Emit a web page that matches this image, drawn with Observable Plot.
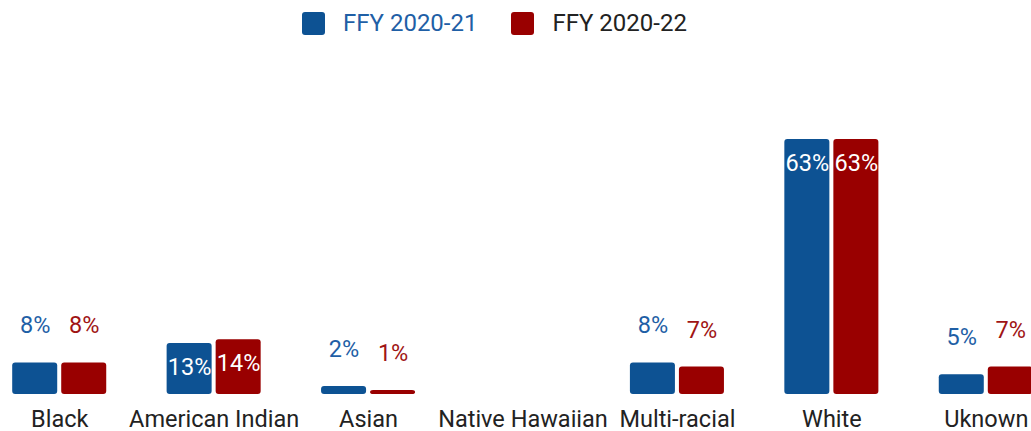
<!DOCTYPE html>
<html><head><meta charset="utf-8">
<script src="https://cdn.jsdelivr.net/npm/d3@7"></script>
<script src="https://cdn.jsdelivr.net/npm/@observablehq/plot@0.6"></script>
<style>
html,body{margin:0;padding:0;background:#fff;overflow:hidden;font-family:Roboto,sans-serif}
#legend{height:46px;display:flex;align-items:center;padding-left:302px;font-size:24px;box-sizing:border-box}
.item{display:flex;align-items:center;margin-right:34px}
.sw{width:23px;height:23px;border-radius:3px;margin-right:18px}
</style></head><body>
<div id="legend"></div><div id="chart"></div>
<script>
const categories = ["Black","American Indian","Asian","Native Hawaiian","Multi-racial","White","Uknown"];
const series = ["FFY 2020-21","FFY 2020-22"];
const values2021 = [7.8, 12.6, 2.0, 0, 7.8, 63.0, 4.9];
const values2022 = [7.8, 13.5, 1.0, 0, 6.8, 63.0, 6.8];
const barColors = ["#0d5293","#990000"];
const labelColors = ["#1f5fa6","#a01414"];
const legendTextColors = ["#1f5fa6","#222222"];

const data = [];
categories.forEach((c, i) => {
  data.push({category: c, series: series[0], value: values2021[i]});
  data.push({category: c, series: series[1], value: values2022[i]});
});
data.forEach(d => d.label = Math.round(d.value) + "%");

const legend = document.getElementById("legend");
series.forEach((s, i) => {
  const it = document.createElement("div"); it.className = "item";
  const sw = document.createElement("div"); sw.className = "sw"; sw.style.background = barColors[i];
  const tx = document.createElement("span"); tx.textContent = s; tx.style.color = legendTextColors[i];
  it.append(sw, tx); legend.append(it);
});

const chart = Plot.plot({
  width: 1031,
  height: 385,
  marginLeft: -18,
  marginRight: -32,
  marginTop: 93,
  marginBottom: 37,
  style: {fontFamily: "Roboto", fontSize: "23.5px", background: "white", overflow: "hidden"},
  fx: {domain: categories, padding: 0, round: false},
  x: {domain: series, paddingInner: 0.0816, paddingOuter: 0.616, round: false, axis: null},
  y: {domain: [0, 63], axis: null},
  color: {domain: series, range: barColors},
  marks: [
    Plot.barY(data, {fx: "category", x: "series", y: "value", fill: "series", rx: 3}),
    Plot.text(data.filter(d => d.value > 0 && d.value < 10), {
      fx: "category", x: "series", y: "value", text: "label", dy: -37,
      fill: d => labelColors[series.indexOf(d.series)], fontSize: 23.5
    }),
    Plot.text(data.filter(d => d.value >= 10), {
      fx: "category", x: "series", y: "value", text: "label", dy: 24,
      fill: "white", fontSize: 23.5
    }),
    Plot.axisFx({anchor: "bottom", tickSize: 0, tickPadding: 16, fontSize: 23.5, fill: "#222", label: null})
  ]
});
document.getElementById("chart").append(chart);
</script>
</body></html>
